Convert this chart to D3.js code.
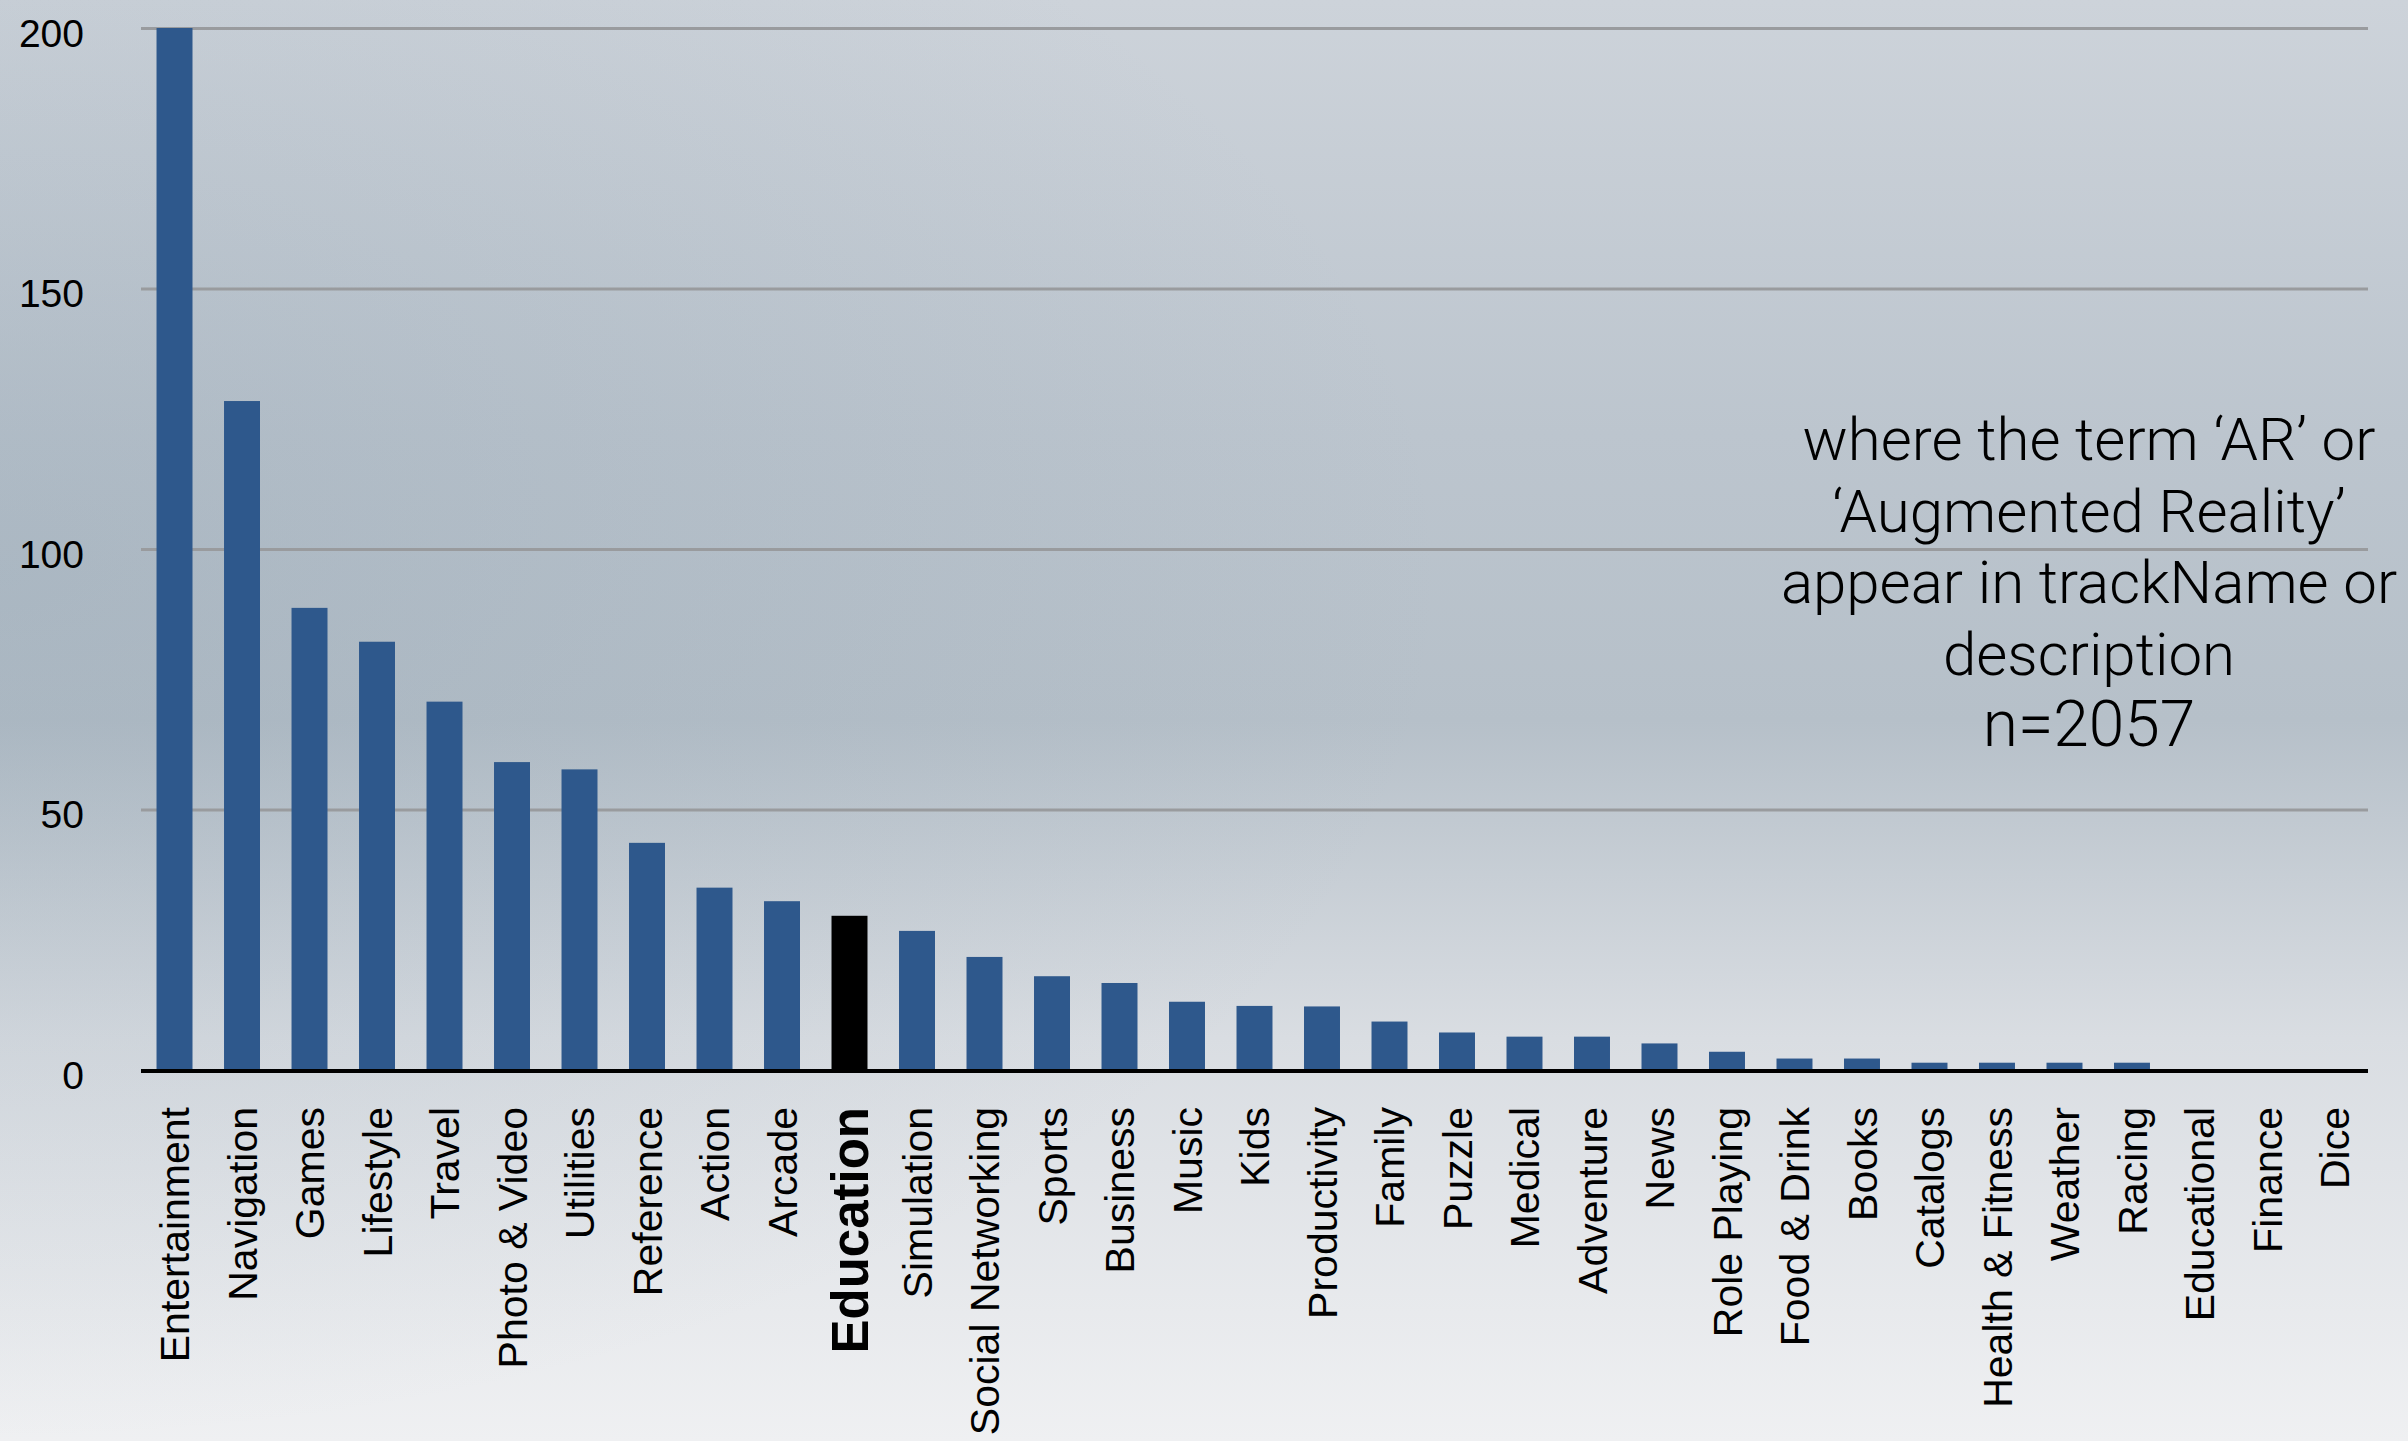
<!DOCTYPE html>
<html>
<head>
<meta charset="utf-8">
<script src="https://cdn.jsdelivr.net/npm/d3@7"></script>
<style>
  html, body { margin: 0; padding: 0; overflow: hidden; }
  svg { display: block; }
</style>
</head>
<body>
<svg width="2408" height="1441"></svg>
<script>
// categories and counts
var categories = ["Entertainment", "Navigation", "Games", "Lifestyle", "Travel", "Photo & Video", "Utilities",
                  "Reference", "Action", "Arcade", "Education", "Simulation", "Social Networking", "Sports",
                  "Business", "Music", "Kids", "Productivity", "Family", "Puzzle", "Medical", "Adventure",
                  "News", "Role Playing", "Food & Drink", "Books", "Catalogs", "Health & Fitness", "Weather",
                  "Racing", "Educational", "Finance", "Dice"];

var counts = [200, 128.4, 88.7, 82.2, 70.7, 59.1, 57.7, 43.6, 35, 32.4, 29.6, 26.7, 21.7, 18, 16.7, 13.1,
              12.3, 12.2, 9.3, 7.2, 6.4, 6.4, 5.1, 3.5, 2.2, 2.2, 1.4, 1.4, 1.4, 1.4, 0, 0, 0];

var yTicks = [0, 50, 100, 150, 200];

var highlight = "Education";   // the category drawn in black

var noteLines = ["where the term \u2018AR\u2019 or", "\u2018Augmented Reality\u2019", "appear in trackName or",
                 "description", "n=2057"];

var svg = d3.select("svg"),
    width = +svg.attr("width"),
    height = +svg.attr("height");

var plotLeft = 141, plotRight = 2368, plotTop = 28, plotBase = 1070;

// background gradient
var defs = svg.append("defs");
var bg = defs.append("linearGradient").attr("id", "bg").attr("x1", 0).attr("y1", 0).attr("x2", 0).attr("y2", 1);
bg.append("stop").attr("offset", "0%").attr("stop-color", "#cdd3da");
bg.append("stop").attr("offset", "30%").attr("stop-color", "#bcc5ce");
bg.append("stop").attr("offset", "50%").attr("stop-color", "#b6c0c9");
bg.append("stop").attr("offset", "72%").attr("stop-color", "#d9dde2");
bg.append("stop").attr("offset", "100%").attr("stop-color", "#eff0f2");

var side = defs.append("radialGradient").attr("id", "side")
    .attr("cx", 0).attr("cy", 0.4).attr("r", 0.6);
side.append("stop").attr("offset", "0%").attr("stop-color", "#7f95a6").attr("stop-opacity", 0.25);
side.append("stop").attr("offset", "100%").attr("stop-color", "#7f95a6").attr("stop-opacity", 0);

svg.append("rect").attr("width", width).attr("height", height).attr("fill", "url(#bg)");
svg.append("rect").attr("width", width).attr("height", height).attr("fill", "url(#side)");

// scales
var x = d3.scaleBand()
    .domain(categories)
    .range([plotLeft, plotRight])
    .paddingInner(0.467)
    .paddingOuter(0.23);

var y = d3.scaleLinear()
    .domain([0, 200])
    .range([plotBase, plotTop]);

// grid lines + y labels
var yAxis = svg.append("g")
    .attr("transform", "translate(" + plotLeft + ",0)")
    .call(d3.axisLeft(y).tickValues(yTicks).tickSize(-(plotRight - plotLeft)).tickPadding(57));

yAxis.select(".domain").remove();
yAxis.selectAll(".tick line")
    .attr("stroke", "#999b9e")
    .attr("stroke-width", 3);
yAxis.selectAll(".tick text")
    .attr("dy", "0.47em")
    .attr("fill", "#000")
    .style("font-family", "'Liberation Sans', Arial, sans-serif")
    .style("font-size", "39px");

// bars
svg.append("g")
    .selectAll("rect")
    .data(categories)
    .enter().append("rect")
    .attr("x", function(d) { return x(d); })
    .attr("width", x.bandwidth())
    .attr("y", function(d, i) { return y(counts[i]); })
    .attr("height", function(d, i) { return plotBase - y(counts[i]); })
    .attr("fill", function(d) { return d == highlight ? "#000" : "#2e588c"; });

// zero line
svg.append("line")
    .attr("x1", plotLeft).attr("x2", plotRight)
    .attr("y1", y(0) + 1).attr("y2", y(0) + 1)
    .attr("stroke", "#000")
    .attr("stroke-width", 4);

// category labels, rotated
svg.append("g")
    .selectAll("text")
    .data(categories)
    .enter().append("text")
    .attr("transform", function(d) { return "translate(" + (x(d) + x.bandwidth() / 2) + ",1107) rotate(-90)"; })
    .attr("text-anchor", "end")
    .attr("dy", "0.36em")
    .attr("fill", "#000")
    .style("font-family", "'Liberation Sans', Arial, sans-serif")
    .style("font-weight", function(d) { return d == highlight ? "bold" : "normal"; })
    .style("font-size", function(d) { return d == highlight ? "51px" : "41px"; })
    .text(function(d) { return d; });

// note on the right
svg.append("g")
    .selectAll("text")
    .data(noteLines)
    .enter().append("text")
    .attr("x", 2089)
    .attr("y", function(d, i) { return 460 + i * 71.5; })
    .attr("text-anchor", "middle")
    .attr("fill", "#000")
    .style("font-family", "Roboto, 'Open Sans', sans-serif")
    .style("font-weight", 300)
    .style("font-size", function(d, i) { return i == noteLines.length - 1 ? "64px" : "60px"; })
    .text(function(d) { return d; });
</script>
</body>
</html>
